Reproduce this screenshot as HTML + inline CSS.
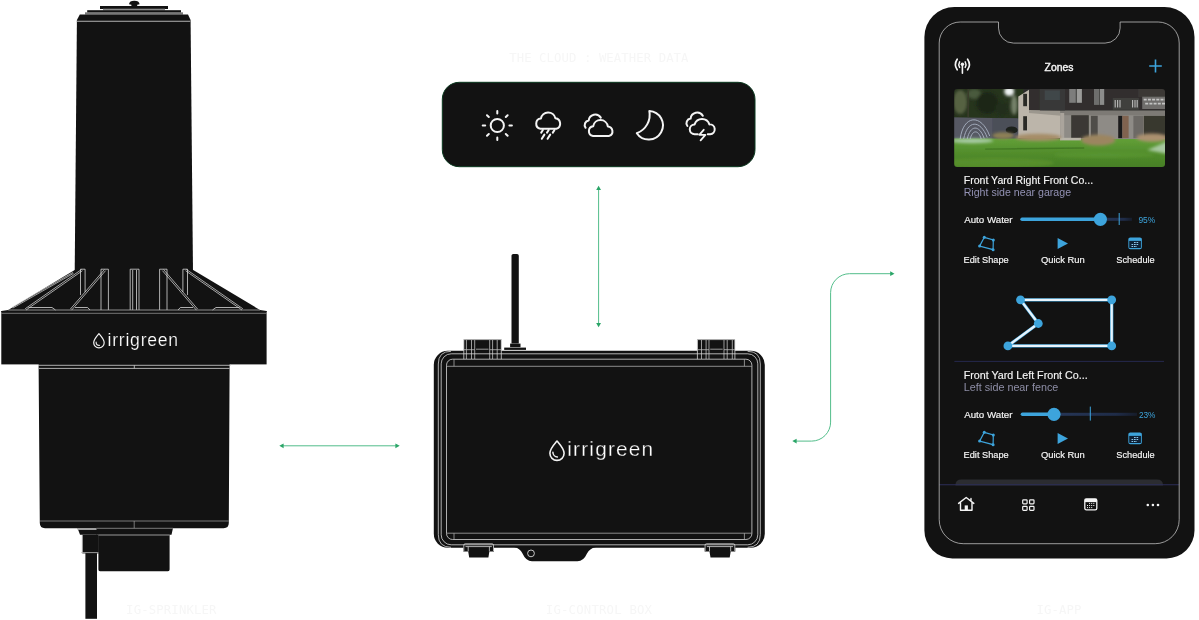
<!DOCTYPE html>
<html lang="en">
<head>
<meta charset="utf-8">
<title>Irrigreen system</title>
<style>
html,body{margin:0;padding:0;background:#fff;}
body{width:1199px;height:620px;overflow:hidden;position:relative;font-family:"Liberation Sans",sans-serif;}
svg{position:absolute;left:0;top:0;display:block;will-change:transform;}
.d{fill:#121212;}
.l{fill:none;stroke:#d8d8d8;stroke-width:.8;}
.lg{fill:none;stroke:#8f8f8f;stroke-width:.8;}
.lab{font-family:"DejaVu Sans Mono","Liberation Mono",monospace;font-size:12.3px;fill:#f6f6f6;}
.logo{font-family:"Liberation Sans",sans-serif;fill:#fff;}
.t{font-family:"Liberation Sans",sans-serif;fill:#f5f5f5;}
.ic{fill:none;stroke:#f4f4f4;stroke-width:2;stroke-linecap:round;stroke-linejoin:round;}
.g{fill:none;stroke:#52bd8a;stroke-width:1;}
.gh{fill:#2aa567;}
.b{fill:#3da4dc;}
.bs{fill:none;stroke:#3da4dc;}
</style>
</head>
<body>
<svg width="1199" height="620" viewBox="0 0 1199 620">
<g id="sprinkler">
<path class="d" d="M129 4.2Q129.4 0.8 134.3 0.8Q139.2 0.8 139.6 4.2L137.2 4.8V6.2H131.4V4.8Z"/>
<rect class="d" x="100" y="6" width="68" height="3"/>
<rect x="103" y="8.7" width="62" height="1.7" fill="#8a8a8a"/>
<rect class="d" x="87.2" y="10.2" width="93.8" height="2.5"/>
<rect x="85" y="12.3" width="98" height="2.3" fill="#787878"/>
<path class="d" d="M79.8 14.4H188L190.6 20V22H76.9V20Z"/>
<path class="d" d="M76.9 21.5H190.6L193 272H74.7Z"/>
<path d="M76.9 21.2H190.6" stroke="#b5b5b5" stroke-width="1.1" fill="none"/>
<!-- fins -->
<path class="d" d="M74.7 270H193.2L260 310L266.6 311V312H1.3V311L8.2 310Z"/>
<!-- collar -->
<rect class="d" x="1.3" y="311" width="265.3" height="53.4"/>
<!-- lower body -->
<path class="d" d="M38.6 364H229.6L228.8 523Q228.8 528.2 223.6 528.2H45Q39.9 528.2 39.8 523Z"/>
<!-- under parts -->
<path class="d" d="M77.5 528H97V534.8H80Z"/><path d="M77.5 529H97" stroke="#b0b0b0" stroke-width="1.8"/>
<path class="d" d="M96.5 528H173L171.5 534.8H169.6V569.5Q169.6 571.3 168 571.3H100Q98.4 571.3 98.4 569.5V534.8H96.5Z"/>
<rect class="d" x="82.3" y="534.8" width="16.5" height="18.6"/>
<rect class="d" x="85.4" y="553" width="11.6" height="65.8"/>
<!-- light lines -->
<g class="l">
<path d="M1.3 313.3H266.6" stroke="#a0a0a0" stroke-width=".7"/>
<path d="M38 365.3H231M39 368.4H229.5M134.3 365.3V368.4"/>
<path d="M40 521H228.7M134.2 521V528.2M96.5 528.3H173" stroke="#9c9c9c" stroke-width=".75"/>
<path d="M98.4 535H169.6M81 552.6H98.4M82.3 535V552.6" stroke="#bdbdbd"/>
<!-- left ribs -->
<path d="M72.93 272.42L12.23 307.12M73.47 273.38L12.77 308.08" stroke-width=".7"/>
<path d="M81.57 269.48L25.17 308.78M82.43 270.72L26.03 310.02" stroke-width=".75"/>
<path d="M104.39 269.58L70.39 309.08M105.61 270.62L71.61 310.12" stroke-width=".75"/>
<path d="M80.5 295V269.2H85.1V292"/>
<path d="M101.0 310V269.2H108.4V310"/>
<path d="M28.5 307.5H52.0L55.5 310M75.0 307.5H87.6L90.0 310"/>
<path d="M185.57 270.72L241.97 310.02M186.43 269.48L242.83 308.78" stroke-width=".75"/>
<path d="M162.39 270.62L196.39 310.12M163.61 269.58L197.61 309.08" stroke-width=".75"/>
<path d="M187.5 295V269.2H182.9V292"/>
<path d="M167.0 310V269.2H159.6V310"/>
<path d="M239.5 307.5H216.0L212.5 310M193.0 307.5H180.4L178.0 310"/>
<path d="M130.2 310V269.2H139V310M132.7 270V310M136.5 270V310"/>
<path d="M8.2 310H260" stroke="#b0b0b0"/>
</g>
<!-- logo -->
<g transform="translate(92.9,332.9) scale(0.806)">
<path d="M7.5 1C10.5 4.6 14 8 14 12.2A6.5 6.5 0 0 1 1 12.2C1 8 4.5 4.6 7.5 1Z" fill="none" stroke="#f2f2f2" stroke-width="1.5" stroke-linejoin="round"/>
<path d="M4 11.5A4 4 0 0 0 8 15.5" fill="none" stroke="#f2f2f2" stroke-width="1.4" stroke-linecap="round"/>
</g>
<text class="logo" x="107.6" y="345.8" font-size="17.6" textLength="70.5" lengthAdjust="spacing" stroke="#121212" stroke-width=".22">irrigreen</text>
</g>
<g id="weather">
<rect x="442.3" y="82.3" width="312.7" height="84.4" rx="17" fill="#121212" stroke="#0b3a20" stroke-width="1"/>
<!-- sun -->
<g class="ic">
<circle cx="497.3" cy="125.5" r="6.6"/>
<path d="M497.3 110.9V113.4M497.3 137.6V140.1M482.7 125.5H485.2M509.4 125.5H511.9M487 115.2L488.8 117M505.8 134L507.6 135.8M487 135.8L488.8 134M505.8 117L507.6 115.2"/>
</g>
<!-- rain -->
<g class="ic">
<path d="M540.4 128.7A5.1 5.1 0 0 1 540.9 118.6A7.4 7.4 0 0 1 555.4 118.2A5.4 5.4 0 0 1 556.4 128.7Z"/>
<path d="M542.9 130L541.2 132.6M548.7 130L547 132.6M554.5 130L552.8 132.6M544.4 134.6L541.8 138.8M550.2 134.6L547.6 138.8"/>
</g>
<!-- clouds -->
<g class="ic">
<path d="M593 135.9A4.9 4.9 0 0 1 593.2 126.2A7.4 7.4 0 0 1 607.8 126.4A4.9 4.9 0 0 1 609.2 135.9Z"/>
<path d="M585.6 127.8A4.6 4.6 0 0 1 588.7 120.5A6.6 6.6 0 0 1 600.8 117.6"/>
</g>
<!-- moon -->
<g class="ic">
<path d="M649.3 110.9A14.3 14.3 0 1 1 636.8 133.2A19.6 19.6 0 0 0 649.3 110.9Z"/>
</g>
<!-- storm -->
<g class="ic">
<path d="M697.8 134.2H694.7A4.9 4.9 0 0 1 694.6 124.4A7.8 7.8 0 0 1 709.4 124.4A4.9 4.9 0 0 1 710.2 134.2H707.8"/>
<path d="M687.4 126A4.6 4.6 0 0 1 690.6 118.6A6.6 6.6 0 0 1 702.8 115.8"/>
<path d="M703.7 129.8L699.3 134.9H705.4L700.6 140.3" stroke-width="1.8"/>
</g>
</g>
<g id="box">
<!-- antenna -->
<path class="d" d="M511.5 343.6V255.8Q511.5 254 513.3 254H517Q518.8 254 518.8 255.8V343.6Z"/>
<rect class="d" x="510.1" y="343.6" width="10.4" height="3.6"/>
<rect class="d" x="504.2" y="347.6" width="21.8" height="2.3"/>
<!-- hinges -->
<rect class="d" x="463.8" y="339.2" width="37.5" height="20"/>
<rect class="d" x="697.4" y="339.2" width="37.5" height="20"/>
<!-- latches -->
<path class="d" d="M463.3 545Q463.3 543.3 465 543.3H492.3Q494 543.3 494 545V551.4H489.4L488.4 557.5H469.2L468.2 551.4H463.3Z"/>
<path class="d" d="M704.6 545Q704.6 543.3 706.3 543.3H733.6Q735.3 543.3 735.3 545V551.4H730.7L729.7 557.5H710.5L709.5 551.4H704.6Z"/>
<!-- bottom bump -->
<path class="d" d="M514 547H596Q590 548.2 587 553.5Q583.5 561.3 577.5 561.3H532Q526 561.3 522.5 553.5Q519.8 548.2 514 547Z"/>
<!-- body -->
<rect class="d" x="433.8" y="350.8" width="331" height="197" rx="14"/>
<g class="l">
<path d="M451 351.3Q438.3 351.3 438.3 364V534.6Q438.3 547.3 451 547.3M747.6 351.3Q760.3 351.3 760.3 364V534.6Q760.3 547.3 747.6 547.3"/>
<rect x="441.2" y="353.8" width="316.6" height="191" rx="10"/>
<rect x="446.5" y="359.2" width="305.4" height="180.3" rx="6"/>
<path d="M446.5 366.3H751.9M446.5 533.2H751.9M454 359.2V366.3M744.4 359.2V366.3M454 533.2V539.5M744.4 533.2V539.5" stroke="#a9a9a9"/>
<!-- hinge lines -->
<g id="hl">
<path d="M463.8 359.2V339.6H501.3V359.2"/>
<path d="M466.4 340V359M471.5 340V359M474.7 340V359M489.7 340V359M492.6 340V359M497.2 340V359" stroke-width=".7"/>
<path d="M463.8 349.7H474.7M489.7 349.7H501.3M476 349.2H488.5" stroke="#bdbdbd"/>
</g>
<g transform="translate(1198.7,0) scale(-1,1)">
<path d="M463.8 359.2V339.6H501.3V359.2"/>
<path d="M466.4 340V359M471.5 340V359M474.7 340V359M489.7 340V359M492.6 340V359M497.2 340V359" stroke-width=".7"/>
<path d="M463.8 349.7H474.7M489.7 349.7H501.3M476 349.2H488.5" stroke="#bdbdbd"/>
</g>
<!-- latch lines -->
<path d="M463.8 551V545.2Q463.8 543.8 465.2 543.8H492.1Q493.5 543.8 493.5 545.2V551M465.5 546.6H491.8M468.2 546.6V551.4M489.4 546.6V551.4"/>
<path d="M705.1 551V545.2Q705.1 543.8 706.5 543.8H733.4Q734.8 543.8 734.8 545.2V551M706.8 546.6H733.1M709.5 546.6V551.4M730.7 546.6V551.4"/>
<circle cx="531" cy="553.4" r="3.4" stroke-width=".9"/>
</g>
<!-- logo -->
<g transform="translate(549,440)">
<path d="M8 1C11.4 5 15.1 8.6 15.1 13.3A7.1 7.1 0 0 1 0.9 13.3C0.9 8.6 4.6 5 8 1Z" fill="none" stroke="#f2f2f2" stroke-width="1.6" stroke-linejoin="round"/>
<path d="M3.9 12.2A4.9 4.9 0 0 0 8.4 17" fill="none" stroke="#f2f2f2" stroke-width="1.5" stroke-linecap="round"/>
</g>
<text class="logo" x="567.2" y="455.8" font-size="20.8" textLength="86" lengthAdjust="spacing" stroke="#121212" stroke-width=".28">irrigreen</text>
</g>
<g id="phone">
<path d="M954.4 7H1164.5A30 30 0 0 1 1194.5 37V530.4A28 28 0 0 1 1166.5 558.4H952.4A28 28 0 0 1 924.4 530.4V37A30 30 0 0 1 954.4 7Z" fill="#121212"/>
<defs>
<clipPath id="scr"><rect x="939.2" y="22" width="240" height="521.7" rx="22"/></clipPath>
<clipPath id="ph"><rect x="954.2" y="89" width="210.8" height="78" rx="3"/></clipPath>
<filter id="bl" x="-5%" y="-5%" width="110%" height="110%"><feGaussianBlur stdDeviation=".7"/></filter>
<filter id="bl2" x="-10%" y="-10%" width="120%" height="120%"><feGaussianBlur stdDeviation="1.6"/></filter>
<linearGradient id="lawn" x1="0" y1="0" x2="0" y2="1"><stop offset="0" stop-color="#62a038"/><stop offset=".45" stop-color="#528d2c"/><stop offset="1" stop-color="#437b23"/></linearGradient>
<linearGradient id="trk" x1="0" y1="0" x2="1" y2="0"><stop offset="0" stop-color="#263657"/><stop offset=".75" stop-color="#1f2c48"/><stop offset="1" stop-color="#161c2a"/></linearGradient>
</defs>
<!--PHOTO-->
<g clip-path="url(#ph)">
<g transform="translate(954.2,89)" filter="url(#bl)">
<rect x="-3" y="-3" width="217" height="84" fill="#2b2c2b"/>
<!-- trees -->
<rect x="-3" y="-3" width="72" height="36" fill="#27341e"/>
<g filter="url(#bl2)">
<ellipse cx="6" cy="13" rx="7" ry="12" fill="#566243"/>
<ellipse cx="20" cy="5" rx="7" ry="5" fill="#4a5a3c"/>
<ellipse cx="33" cy="14" rx="11" ry="11" fill="#1b2616"/>
<ellipse cx="48" cy="20" rx="7" ry="8" fill="#222e1b"/>
<ellipse cx="55" cy="2.5" rx="5" ry="4.5" fill="#eef1f2"/>
<ellipse cx="60" cy="16" rx="3.2" ry="10" fill="#76826a"/>
</g>
<path d="M14 0V28" stroke="#3a3d2c" stroke-width="1.4"/>
<!-- fence -->
<path d="M-3 28.2L65 29.6V50H-3Z" fill="#565963"/>
<rect x="38" y="29" width="27" height="21" fill="#494b55" opacity=".7"/>
<ellipse cx="57.5" cy="41" rx="6" ry="3.6" fill="#1e201b"/>
<!-- lawn -->
<rect x="-3" y="49.5" width="217" height="32" fill="url(#lawn)"/>
<path d="M31 59.4L130 58.3V59.7L31 60.8Z" fill="#33661c" opacity=".55"/>
<ellipse cx="40" cy="74" rx="60" ry="5" fill="#649a32" opacity=".55" filter="url(#bl2)"/>
<ellipse cx="150" cy="66" rx="50" ry="3" fill="#5f9c36" opacity=".5" filter="url(#bl2)"/>
<!-- house light wall -->
<path d="M64.1 7.5L74.8 0.7V-3H110V49H64.1Z" fill="#bcb5aa"/>
<path d="M74.8 21H110V27L74.8 24Z" fill="#8f8a82" opacity=".7"/>
<rect x="69" y="4.8" width="3.8" height="12.4" fill="#2a2a28"/>
<rect x="69" y="27.2" width="3.8" height="14.2" fill="#2a2a28"/>
<!-- ground floor -->
<rect x="106" y="20" width="108" height="30" fill="#8e8b86"/>
<rect x="106" y="21" width="108" height="5.2" fill="#7d7a75"/>
<rect x="106" y="24" width="4" height="25" fill="#aaa49c"/>
<rect x="117" y="26.2" width="17.6" height="23" fill="#3a3834"/>
<rect x="136.7" y="26.8" width="6.8" height="22" fill="#504d49"/>
<rect x="164" y="26.8" width="4.2" height="22.4" fill="#1e1d1c"/>
<rect x="168.2" y="26.8" width="6.2" height="22.4" fill="#80634f"/>
<rect x="179.2" y="26.8" width="9.6" height="22.4" fill="#6c6965"/>
<rect x="189.5" y="26.8" width="25" height="22.4" fill="#38372f"/>
<rect x="105.8" y="48.8" width="21" height="2.6" fill="#b8b4a8"/>
<!-- dark upper volume -->
<path d="M74.8 -3H214V21.6H106L74.8 21Z" fill="#302f2e"/>
<rect x="85.7" y="-3" width="25" height="24.4" fill="#393939"/>
<rect x="90.6" y="1.4" width="15" height="9.6" fill="#40474a"/>
<rect x="115" y="0" width="6.6" height="13.8" fill="#7d7d7c"/>
<rect x="122.5" y="0" width="5.2" height="13.8" fill="#9c9c9a"/>
<rect x="139.8" y="0" width="5.2" height="15.9" fill="#6e6e6d"/>
<rect x="145.6" y="0" width="4.4" height="15.9" fill="#8c8c8b"/>
<rect x="184" y="-3" width="30" height="11" fill="#3a3836"/>
<rect x="158.6" y="9" width="26.1" height="11.7" fill="#3f3f3e"/>
<path d="M161 11V18.6M163.4 11V18.6M165.8 11V18.6M178.4 11V18.6M180.8 11V18.6M183 11V18.6" stroke="#b4b4b3" stroke-width="1.2" fill="none"/>
<rect x="188" y="7.7" width="26" height="12.3" fill="#6f6e6c"/>
<path d="M189.5 10.6H212M191 14.6H212" stroke="#c4c4c3" stroke-width="1.6" stroke-dasharray="3 1.2" fill="none"/>
<!-- shrubs / mist -->
<g filter="url(#bl2)">
<ellipse cx="49" cy="46.6" rx="11" ry="3.4" fill="#8d8055"/>
<ellipse cx="84" cy="48.4" rx="23" ry="3.6" fill="#a68d68"/>
<ellipse cx="144" cy="51" rx="17" ry="5.6" fill="#9c8560"/>
<ellipse cx="198" cy="48.6" rx="16" ry="4.2" fill="#ab916f"/>
<ellipse cx="18" cy="51.8" rx="21" ry="2.4" fill="#a8cba6"/>
<path d="M193 61L214 52V65Z" fill="#a7c8a0"/>
</g>
<!-- sprinkler arcs -->
<g fill="none" stroke="#b4bdcf" stroke-width="1" opacity=".8">
<path d="M6 50C9 26 27 24 35.5 47"/>
<path d="M9.5 50C13 31 26 30 33 48.5"/>
<path d="M13 50C16 36 25 35 30 49.5"/>
<path d="M16 50C18 41 24 40 27 50"/>
</g>
</g>
</g>
<!--/PHOTO-->
<!-- tab bar / bottom card -->
<g clip-path="url(#scr)">
<path d="M955.4 485.5V485.3Q955.4 479.4 961.4 479.4H1157Q1163 479.4 1163 485.3V485.5Z" fill="#2b2c31"/>
<path d="M939 484.8H1180" stroke="#2c2e58" stroke-width="1.1"/>
</g>
<!-- screen outline -->
<path d="M960.2 22H998.5V28.1A15 15 0 0 0 1013.5 43.1H1105.1A15 15 0 0 0 1120.1 28.1V22H1158.2A21 21 0 0 1 1179.2 43V519.7A24 24 0 0 1 1155.2 543.7H963.2A24 24 0 0 1 939.2 519.7V43A21 21 0 0 1 960.2 22Z" fill="none" stroke="#b4b4b4" stroke-width=".85"/>
<!-- header -->
<g fill="none" stroke="#f4f4f4" stroke-width="1.7" stroke-linecap="round">
<path d="M957.2 59.2A9.5 9.5 0 0 0 957.2 69.8M967.6 59.2A9.5 9.5 0 0 1 967.6 69.8"/>
<path d="M959.6 61.9A5.6 5.6 0 0 0 959.6 67.4M965.2 61.9A5.6 5.6 0 0 1 965.2 67.4" stroke-width="1.5"/>
<path d="M962.4 65V73.2" stroke-width="1.6"/>
</g>
<circle cx="962.4" cy="64.3" r="1.75" fill="#f4f4f4"/>
<text class="t" x="1044.6" y="70.6" font-size="10.4" textLength="28.8" lengthAdjust="spacingAndGlyphs" stroke="#f5f5f5" stroke-width=".4">Zones</text>
<path d="M1149.2 66H1161.8M1155.5 59.6V72.4" stroke="#3da4dc" stroke-width="1.6" fill="none"/>
<!-- zone 1 -->
<text class="t" x="963.7" y="184.1" font-size="10.3" textLength="129.5" lengthAdjust="spacingAndGlyphs" stroke="#f5f5f5" stroke-width=".15">Front Yard Right Front Co...</text>
<text class="t" x="963.7" y="195.7" font-size="10.3" textLength="107.4" lengthAdjust="spacingAndGlyphs" style="fill:#9392b4">Right side near garage</text>
<g>
<text class="t" x="964.2" y="222.9" font-size="9.9" stroke="#f5f5f5" stroke-width=".18" textLength="48.3" lengthAdjust="spacingAndGlyphs">Auto Water</text>
<text class="t" x="963.6" y="262.8" font-size="9.9" stroke="#f5f5f5" stroke-width=".18" textLength="45.1" lengthAdjust="spacingAndGlyphs">Edit Shape</text>
<text class="t" x="1040.9" y="262.8" font-size="9.9" stroke="#f5f5f5" stroke-width=".18" textLength="43.8" lengthAdjust="spacingAndGlyphs">Quick Run</text>
<text class="t" x="1116.3" y="262.8" font-size="9.9" stroke="#f5f5f5" stroke-width=".18" textLength="38.4" lengthAdjust="spacingAndGlyphs">Schedule</text>
<!-- edit shape icon -->
<path class="bs" d="M984.3 237.3L993.3 239.9L993.1 249.7L979.6 246.1Z" stroke-width="1.2"/>
<circle class="b" cx="984.3" cy="237.3" r="1.5"/><circle class="b" cx="993.3" cy="239.9" r="1.5"/><circle class="b" cx="993.1" cy="249.7" r="1.5"/><circle class="b" cx="979.6" cy="246.1" r="1.5"/>
<!-- play -->
<path class="b" d="M1057.6 238L1068 243.5L1057.6 249Z"/>
<!-- calendar -->
<rect class="bs" x="1128.9" y="238" width="12.4" height="10.6" rx="1.4" stroke-width="1.1"/>
<rect class="b" x="1128.9" y="238" width="12.4" height="2.9"/>
<rect x="1129.6" y="241" width="11" height="6.9" fill="#0e2238"/><path d="M1134 242.5H1139M1131.5 244.5H1139M1131.5 246.5H1137" stroke="#8cc8ec" stroke-width="1" stroke-dasharray="1.7 .8" fill="none"/>
</g>
<!-- slider 1 -->
<rect x="1100" y="217.8" width="32" height="3" fill="url(#trk)"/>
<path d="M1022 219.3H1100" stroke="#3da4dc" stroke-width="3.4" stroke-linecap="round"/>
<circle class="b" cx="1100.4" cy="219.3" r="6.6"/>
<path d="M1119.2 213V225" stroke="#3da4dc" stroke-width="1"/>
<text x="1138.4" y="222.9" font-size="9.6" textLength="16.8" lengthAdjust="spacingAndGlyphs" style="font-family:'Liberation Sans',sans-serif;fill:#3da4dc">95%</text>
<!-- shape -->
<path d="M1020.5 299.8H1111.7V345.9H1007.9L1038.3 323.5Z" fill="none" stroke="#3da4dc" stroke-width="3.3" stroke-linejoin="round"/>
<path d="M1020.5 299.8H1111.7V345.9H1007.9L1038.3 323.5Z" fill="none" stroke="#e9f4fc" stroke-width="2.2" stroke-linejoin="round"/>
<g class="b"><circle cx="1020.5" cy="299.8" r="4.4"/><circle cx="1111.7" cy="299.8" r="4.4"/><circle cx="1111.7" cy="345.9" r="4.4"/><circle cx="1007.9" cy="345.9" r="4.4"/><circle cx="1038.3" cy="323.5" r="4.4"/></g>
<path d="M954.4 361.4H1164" stroke="#26294e" stroke-width="1"/>
<!-- zone 2 -->
<text class="t" x="963.7" y="379.3" font-size="10.3" textLength="124" lengthAdjust="spacingAndGlyphs" stroke="#f5f5f5" stroke-width=".15">Front Yard Left Front Co...</text>
<text class="t" x="963.7" y="391.2" font-size="10.3" textLength="94.6" lengthAdjust="spacingAndGlyphs" style="fill:#8e8ea6">Left side near fence</text>
<g transform="translate(0,195)">
<text class="t" x="964.2" y="222.9" font-size="9.9" stroke="#f5f5f5" stroke-width=".18" textLength="48.3" lengthAdjust="spacingAndGlyphs">Auto Water</text>
<text class="t" x="963.6" y="262.8" font-size="9.9" stroke="#f5f5f5" stroke-width=".18" textLength="45.1" lengthAdjust="spacingAndGlyphs">Edit Shape</text>
<text class="t" x="1040.9" y="262.8" font-size="9.9" stroke="#f5f5f5" stroke-width=".18" textLength="43.8" lengthAdjust="spacingAndGlyphs">Quick Run</text>
<text class="t" x="1116.3" y="262.8" font-size="9.9" stroke="#f5f5f5" stroke-width=".18" textLength="38.4" lengthAdjust="spacingAndGlyphs">Schedule</text>
<!-- edit shape icon -->
<path class="bs" d="M984.3 237.3L993.3 239.9L993.1 249.7L979.6 246.1Z" stroke-width="1.2"/>
<circle class="b" cx="984.3" cy="237.3" r="1.5"/><circle class="b" cx="993.3" cy="239.9" r="1.5"/><circle class="b" cx="993.1" cy="249.7" r="1.5"/><circle class="b" cx="979.6" cy="246.1" r="1.5"/>
<!-- play -->
<path class="b" d="M1057.6 238L1068 243.5L1057.6 249Z"/>
<!-- calendar -->
<rect class="bs" x="1128.9" y="238" width="12.4" height="10.6" rx="1.4" stroke-width="1.1"/>
<rect class="b" x="1128.9" y="238" width="12.4" height="2.9"/>
<rect x="1129.6" y="241" width="11" height="6.9" fill="#0e2238"/><path d="M1134 242.5H1139M1131.5 244.5H1139M1131.5 246.5H1137" stroke="#8cc8ec" stroke-width="1" stroke-dasharray="1.7 .8" fill="none"/>
</g>
<!-- slider 2 -->
<rect x="1054" y="412.8" width="83" height="3" fill="url(#trk)"/>
<path d="M1022.4 414.3H1054" stroke="#3da4dc" stroke-width="3.4" stroke-linecap="round"/>
<circle class="b" cx="1054" cy="414.3" r="6.6"/>
<path d="M1090.3 406.6V420.6" stroke="#3da4dc" stroke-width="1"/>
<text x="1138.9" y="417.9" font-size="9.6" textLength="16.6" lengthAdjust="spacingAndGlyphs" style="font-family:'Liberation Sans',sans-serif;fill:#3da4dc">23%</text>
<!-- tab icons -->
<g fill="none" stroke="#f4f4f4" stroke-width="1.4" stroke-linejoin="round" stroke-linecap="round">
<path d="M958.6 503.4L966.2 497.5L973.8 503.4M960.5 502.6V510.2H972V502.6M971 500.8V498.4"/>
<g stroke-width="1.2">
<rect x="1022.7" y="499.8" width="4.4" height="4" rx=".8"/><rect x="1029.6" y="499.8" width="4.4" height="4" rx=".8"/><rect x="1022.7" y="506.3" width="4.4" height="4" rx=".8"/><rect x="1029.6" y="506.3" width="4.4" height="4" rx=".8"/>
</g>
<rect x="1084.8" y="498.9" width="12" height="11" rx="1.6" stroke-width="1.3"/>
</g>
<rect x="964.7" y="505.4" width="3.2" height="5" fill="#f4f4f4"/>
<rect x="1084.8" y="498.9" width="12" height="3.2" fill="#f4f4f4"/>
<path d="M1089.1 503.4H1094.3M1087 505.5H1094.3M1087 507.6H1092.2" stroke="#f4f4f4" stroke-width="1" stroke-dasharray="1 1.1" fill="none"/>
<g fill="#f4f4f4"><circle cx="1147.8" cy="505" r="1.3"/><circle cx="1152.9" cy="505" r="1.3"/><circle cx="1158" cy="505" r="1.3"/></g>
</g>
<g id="arrows">
<path class="g" d="M282 445.8H397"/>
<path class="gh" d="M279.3 445.8L283.6 443.4V448.2Z"/><path class="gh" d="M399.7 445.8L395.4 443.4V448.2Z"/>
<path class="g" d="M598.6 189V324"/>
<path class="gh" d="M598.6 185.7L601 190H596.2Z"/><path class="gh" d="M598.6 327.3L601 323H596.2Z"/>
<path class="g" d="M795 441.1H811.6A19 19 0 0 0 830.6 422.1V292.7A19 19 0 0 1 849.6 273.7H891"/>
<path class="gh" d="M792.3 441.1L796.6 438.7V443.5Z"/><path class="gh" d="M894.5 273.7L890.2 271.3V276.1Z"/>
</g>
<g id="labels">
<text class="lab" x="509.2" y="62" textLength="179.3" lengthAdjust="spacing">THE CLOUD : WEATHER DATA</text>
<text class="lab" x="126.1" y="613.8" textLength="90.4" lengthAdjust="spacing">IG-SPRINKLER</text>
<text class="lab" x="545.8" y="613.8" textLength="106.2" lengthAdjust="spacing">IG-CONTROL BOX</text>
<text class="lab" x="1036.5" y="613.8" textLength="45" lengthAdjust="spacing">IG-APP</text>
</g>
</svg>
</body>
</html>
